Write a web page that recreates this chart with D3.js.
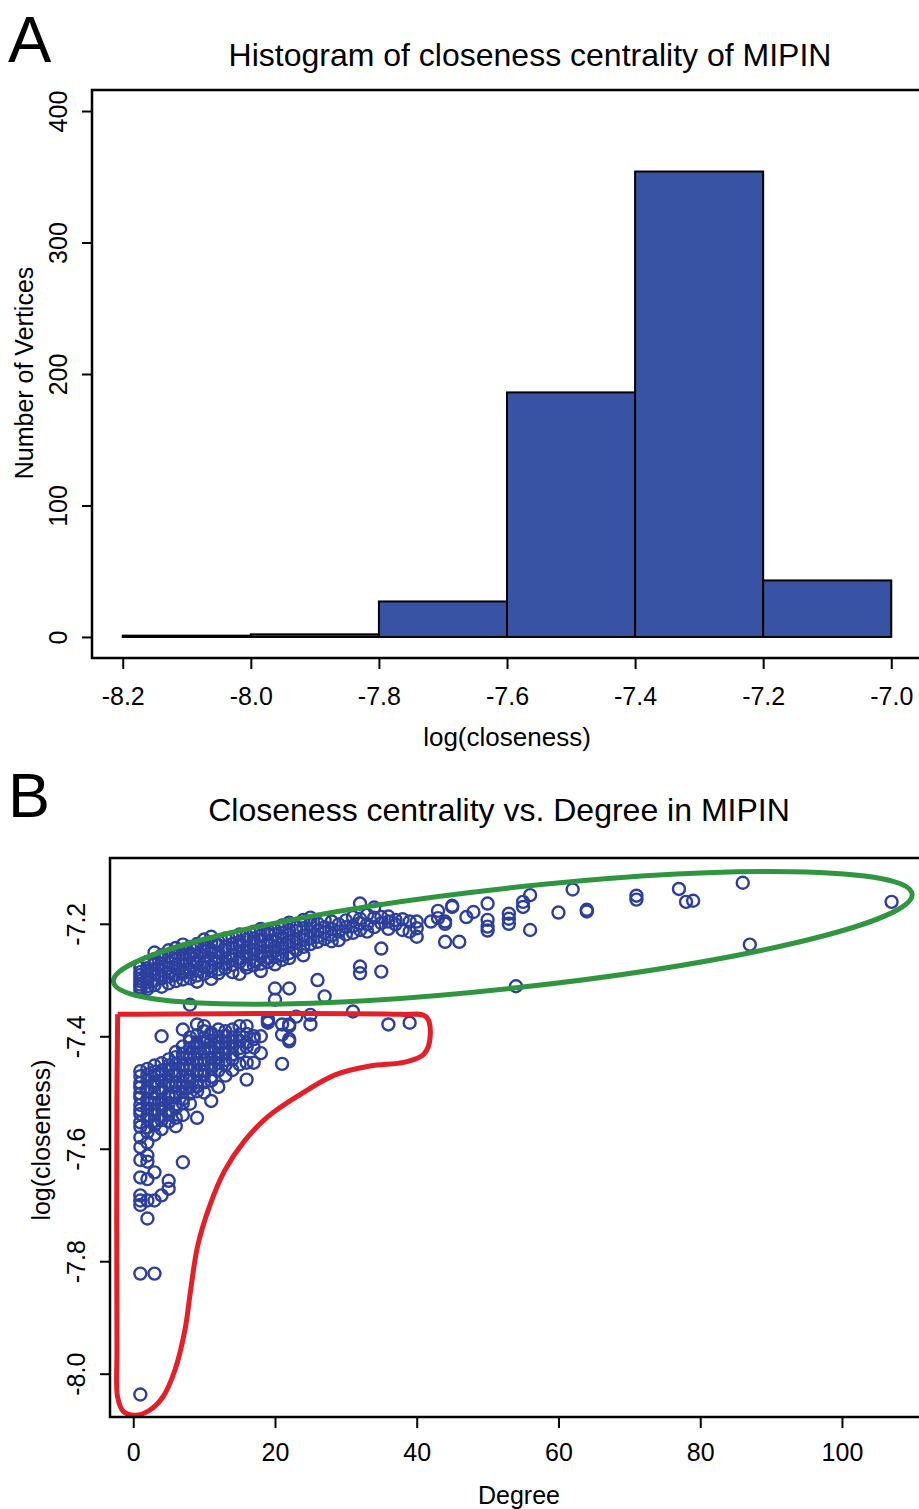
<!DOCTYPE html>
<meta charset="utf-8">
<head>
  <script src="https://cdn.jsdelivr.net/npm/d3@7"></script>
  <style>
    body { margin: 0; background: #fff; }
    svg text { font-family: "Liberation Sans", Arial, sans-serif; fill: #000; }
    .tick line { stroke: #000; stroke-width: 2; }
  </style>
</head>
<body>
<svg id="fig" width="919" height="1509"></svg>
<script>
  // ============================== DATA ==============================
  // panel A: histogram of log(closeness)
  var binEdges = [-8.2, -8.0, -7.8, -7.6, -7.4, -7.2, -7.0];
  var binCounts = [1, 2, 27, 186, 354, 43];
  var histXTicks = [-8.2, -8.0, -7.8, -7.6, -7.4, -7.2, -7.0];
  var histYTicks = [0, 100, 200, 300, 400];

  // panel B: [degree, [log(closeness) values]]
  var upperBranch = [
    [1, [-7.278, -7.286, -7.291, -7.297, -7.302, -7.308, -7.313, -7.318]],
    [2, [-7.268, -7.279, -7.284, -7.293, -7.298, -7.304, -7.311, -7.316]],
    [3, [-7.251, -7.263, -7.272, -7.281, -7.289, -7.301, -7.309]],
    [4, [-7.256, -7.262, -7.271, -7.283, -7.292, -7.297, -7.312]],
    [5, [-7.247, -7.259, -7.268, -7.279, -7.287, -7.294, -7.306]],
    [6, [-7.243, -7.252, -7.263, -7.274, -7.279, -7.291, -7.302]],
    [7, [-7.237, -7.246, -7.254, -7.262, -7.273, -7.284, -7.288, -7.299]],
    [8, [-7.241, -7.253, -7.258, -7.269, -7.281, -7.286, -7.297]],
    [9, [-7.236, -7.244, -7.257, -7.266, -7.271, -7.283, -7.292, -7.303]],
    [10, [-7.228, -7.242, -7.249, -7.258, -7.268, -7.277, -7.289]],
    [11, [-7.223, -7.233, -7.247, -7.252, -7.263, -7.276, -7.284, -7.298]],
    [12, [-7.231, -7.238, -7.251, -7.259, -7.267, -7.281, -7.288]],
    [13, [-7.226, -7.241, -7.247, -7.262, -7.271, -7.279]],
    [14, [-7.224, -7.236, -7.243, -7.256, -7.264, -7.273, -7.286]],
    [15, [-7.219, -7.232, -7.238, -7.249, -7.262, -7.268, -7.289]],
    [16, [-7.221, -7.228, -7.242, -7.251, -7.258, -7.272, -7.278]],
    [17, [-7.214, -7.226, -7.233, -7.246, -7.253, -7.266, -7.274]],
    [18, [-7.209, -7.221, -7.229, -7.241, -7.252, -7.258, -7.271, -7.284]],
    [19, [-7.212, -7.218, -7.232, -7.238, -7.249, -7.261, -7.268]],
    [20, [-7.211, -7.219, -7.231, -7.242, -7.248, -7.259, -7.272, -7.315, -7.335]],
    [21, [-7.203, -7.216, -7.224, -7.236, -7.243, -7.256, -7.264]],
    [22, [-7.198, -7.211, -7.219, -7.231, -7.239, -7.252, -7.261, -7.315]],
    [23, [-7.206, -7.213, -7.227, -7.234, -7.247]],
    [24, [-7.193, -7.208, -7.221, -7.229, -7.241, -7.256]],
    [25, [-7.189, -7.201, -7.214, -7.226, -7.236]],
    [26, [-7.199, -7.212, -7.223, -7.232, -7.30]],
    [27, [-7.194, -7.206, -7.216, -7.227, -7.329]],
    [28, [-7.196, -7.209, -7.221, -7.231]],
    [29, [-7.201, -7.214, -7.229]],
    [30, [-7.194, -7.206, -7.219]],
    [31, [-7.188, -7.204, -7.216]],
    [32, [-7.164, -7.191, -7.199, -7.211, -7.276, -7.288]],
    [33, [-7.184, -7.201, -7.214]],
    [34, [-7.171, -7.189, -7.206]],
    [35, [-7.188, -7.199, -7.244, -7.285]],
    [36, [-7.187, -7.196, -7.209]],
    [37, [-7.193, -7.201]],
    [38, [-7.192, -7.211]],
    [39, [-7.196, -7.214]],
    [40, [-7.196, -7.208, -7.223]],
    [42, [-7.196]],
    [43, [-7.177, -7.19]],
    [44, [-7.196, -7.20, -7.232]],
    [45, [-7.168, -7.17]],
    [46, [-7.232]],
    [47, [-7.188]],
    [48, [-7.179]],
    [50, [-7.164, -7.193, -7.205, -7.212]],
    [53, [-7.182, -7.191, -7.20]],
    [54, [-7.311]],
    [55, [-7.161, -7.17]],
    [56, [-7.149, -7.211]],
    [60, [-7.18]],
    [62, [-7.139]],
    [64, [-7.175, -7.178]],
    [71, [-7.150, -7.157]],
    [77, [-7.138]],
    [78, [-7.161]],
    [79, [-7.159]],
    [86, [-7.127]],
    [87, [-7.237]],
    [107, [-7.161]]
  ];

  var lowerBranch = [
    [1, [-7.462, -7.471, -7.483, -7.491, -7.502, -7.509, -7.522, -7.531, -7.538, -7.553, -7.561, -7.58, -7.597, -7.62, -7.651, -7.683, -7.692, -7.70, -7.822, -8.037]],
    [2, [-7.458, -7.468, -7.478, -7.492, -7.498, -7.512, -7.518, -7.529, -7.541, -7.548, -7.562, -7.571, -7.589, -7.612, -7.623, -7.654, -7.692, -7.724]],
    [3, [-7.452, -7.463, -7.469, -7.482, -7.488, -7.501, -7.511, -7.519, -7.532, -7.539, -7.551, -7.558, -7.575, -7.642, -7.692, -7.822]],
    [4, [-7.40, -7.448, -7.461, -7.467, -7.479, -7.493, -7.498, -7.513, -7.521, -7.528, -7.542, -7.549, -7.565, -7.683]],
    [5, [-7.441, -7.452, -7.458, -7.471, -7.482, -7.487, -7.503, -7.508, -7.519, -7.533, -7.539, -7.552, -7.657, -7.671]],
    [6, [-7.428, -7.437, -7.449, -7.462, -7.468, -7.481, -7.489, -7.502, -7.507, -7.521, -7.528, -7.545, -7.56]],
    [7, [-7.388, -7.418, -7.431, -7.439, -7.452, -7.458, -7.471, -7.482, -7.488, -7.499, -7.512, -7.519, -7.54, -7.624]],
    [8, [-7.344, -7.402, -7.409, -7.421, -7.432, -7.438, -7.451, -7.459, -7.472, -7.478, -7.491, -7.502, -7.52]],
    [9, [-7.379, -7.398, -7.412, -7.418, -7.429, -7.441, -7.448, -7.462, -7.468, -7.481, -7.489, -7.498, -7.545]],
    [10, [-7.382, -7.391, -7.403, -7.411, -7.422, -7.428, -7.442, -7.449, -7.461, -7.469, -7.482, -7.50]],
    [11, [-7.394, -7.397, -7.408, -7.421, -7.427, -7.439, -7.452, -7.458, -7.472, -7.479, -7.515]],
    [12, [-7.388, -7.401, -7.412, -7.419, -7.431, -7.438, -7.448, -7.461, -7.49]],
    [13, [-7.391, -7.399, -7.411, -7.422, -7.429, -7.442, -7.451, -7.47]],
    [14, [-7.388, -7.402, -7.409, -7.418, -7.432, -7.441, -7.46]],
    [15, [-7.382, -7.397, -7.408, -7.421, -7.428, -7.45]],
    [16, [-7.382, -7.396, -7.411, -7.419, -7.447, -7.477]],
    [17, [-7.40, -7.405, -7.42, -7.447]],
    [18, [-7.40, -7.43]],
    [19, [-7.37, -7.373, -7.376]],
    [21, [-7.379, -7.397, -7.449]],
    [22, [-7.379, -7.382, -7.405, -7.409]],
    [23, [-7.365]],
    [25, [-7.362, -7.379]],
    [31, [-7.356]],
    [36, [-7.379]],
    [39, [-7.376]]
  ];
  var scatterXTicks = [0, 20, 40, 60, 80, 100];
  var scatterYTicks = [-8.0, -7.8, -7.6, -7.4, -7.2];

  // annotations, in data units (degree, log(closeness))
  var greenEllipseEnds = [[-2.8, -7.303], [109.9, -7.147]];
  var greenEllipseHalfWidth = 50;
  var redOutline = [
    [-2.2, -7.361], [37.6, -7.361], [41.3, -7.365], [41.9, -7.400], [41.0, -7.432],
    [38.3, -7.446], [33.4, -7.453], [28.4, -7.469], [23.5, -7.504], [19.0, -7.543],
    [15.7, -7.586], [12.9, -7.639], [10.8, -7.701], [9.1, -7.772], [8.1, -7.851],
    [7.3, -7.922], [5.9, -7.993], [4.2, -8.041], [2.3, -8.065], [0.3, -8.074],
    [-1.4, -8.067], [-2.2, -8.042], [-2.3, -7.958], [-2.3, -7.515], [-2.2, -7.361]
  ];

  // ============================== SETUP ==============================
  var svg = d3.select("#fig");
  svg.append("rect").attr("width", 919).attr("height", 1509).attr("fill", "#fff");

  var blue = "#3953a4", pointBlue = "#2d3f9d";

  // ============================== PANEL A ==============================
  var boxA = {left: 92, right: 922, top: 90, bottom: 658};
  var xA = d3.scaleLinear().domain([-8.248, -6.952]).range([boxA.left, boxA.right]);
  var yA = d3.scaleLinear().domain([-16, 416]).range([boxA.bottom, boxA.top]);

  var bins = binCounts.map(function(c, i) { return {x0: binEdges[i], x1: binEdges[i + 1], n: c}; });

  var gA = svg.append("g");
  gA.selectAll(".bar")
    .data(bins)
    .enter()
    .append("rect")
    .attr("class", "bar")
    .attr("x", function(d) { return xA(d.x0); })
    .attr("y", function(d) { return yA(d.n); })
    .attr("width", function(d) { return xA(d.x1) - xA(d.x0); })
    .attr("height", function(d) { return yA(0) - yA(d.n); })
    .attr("fill", blue)
    .attr("stroke", "#000")
    .attr("stroke-width", 2);

  gA.append("rect")
    .attr("x", boxA.left).attr("y", boxA.top)
    .attr("width", boxA.right - boxA.left).attr("height", boxA.bottom - boxA.top)
    .attr("fill", "none").attr("stroke", "#000").attr("stroke-width", 2.5);

  // bottom axis
  var axA = gA.append("g")
    .attr("transform", "translate(0," + boxA.bottom + ")")
    .call(d3.axisBottom(xA).tickValues(histXTicks).tickSize(11));
  axA.select(".domain").remove();
  axA.selectAll("text").attr("y", 0).attr("dy", 47).attr("font-size", 25)
    .text(function(d) { return d3.format(".1f")(d).replace("−", "-"); });

  // left axis
  var ayA = gA.append("g")
    .attr("transform", "translate(" + boxA.left + ",0)")
    .call(d3.axisLeft(yA).tickValues(histYTicks).tickSize(10));
  ayA.select(".domain").remove();
  ayA.selectAll("text")
    .attr("x", 0).attr("dy", null).attr("y", -25)
    .attr("transform", "rotate(-90)")
    .attr("text-anchor", "middle")
    .attr("font-size", 25);

  gA.append("text").attr("x", 507).attr("y", 746)
    .attr("text-anchor", "middle").attr("font-size", 26).text("log(closeness)");
  gA.append("text").attr("transform", "translate(33,373) rotate(-90)")
    .attr("text-anchor", "middle").attr("font-size", 25).text("Number of Vertices");
  gA.append("text").attr("x", 530).attr("y", 66)
    .attr("text-anchor", "middle").attr("font-size", 32).text("Histogram of closeness centrality of MIPIN");
  gA.append("text").attr("x", 8).attr("y", 62).attr("font-size", 65).text("A");

  // ============================== PANEL B ==============================
  var boxB = {left: 110, right: 929, top: 858, bottom: 1417};
  var xB = d3.scaleLinear().domain([-3.28, 112.28]).range([boxB.left, boxB.right]);
  var yB = d3.scaleLinear().domain([-8.077, -7.083]).range([boxB.bottom, boxB.top]);

  var pts = [];
  upperBranch.concat(lowerBranch).forEach(function(d) {
    d[1].forEach(function(v) { pts.push({deg: d[0], val: v}); });
  });

  var gB = svg.append("g");
  gB.selectAll(".pt")
    .data(pts)
    .enter()
    .append("circle")
    .attr("class", "pt")
    .attr("cx", function(d) { return xB(d.deg); })
    .attr("cy", function(d) { return yB(d.val); })
    .attr("r", 6)
    .attr("fill", "none")
    .attr("stroke", pointBlue)
    .attr("stroke-width", 2.4);

  // green ellipse around upper branch
  var e0 = [xB(greenEllipseEnds[0][0]), yB(greenEllipseEnds[0][1])];
  var e1 = [xB(greenEllipseEnds[1][0]), yB(greenEllipseEnds[1][1])];
  var ang = Math.atan2(e1[1] - e0[1], e1[0] - e0[0]) * 180 / Math.PI;
  gB.append("ellipse")
    .attr("cx", 0).attr("cy", 0)
    .attr("rx", Math.hypot(e1[0] - e0[0], e1[1] - e0[1]) / 2)
    .attr("ry", greenEllipseHalfWidth)
    .attr("transform", "translate(" + (e0[0] + e1[0]) / 2 + "," + (e0[1] + e1[1]) / 2 + ") rotate(" + ang + ")")
    .attr("fill", "none")
    .attr("stroke", "#2f963f")
    .attr("stroke-width", 5);

  // red outline around lower branch
  var redLine = d3.line()
    .x(function(d) { return xB(d[0]); })
    .y(function(d) { return yB(d[1]); })
    .curve(d3.curveCatmullRom.alpha(0.5));
  gB.append("path")
    .attr("d", redLine(redOutline))
    .attr("fill", "none")
    .attr("stroke", "#e41f28")
    .attr("stroke-width", 5)
    .attr("stroke-linejoin", "round");

  gB.append("rect")
    .attr("x", boxB.left).attr("y", boxB.top)
    .attr("width", boxB.right - boxB.left).attr("height", boxB.bottom - boxB.top)
    .attr("fill", "none").attr("stroke", "#000").attr("stroke-width", 2.5);

  var axB = gB.append("g")
    .attr("transform", "translate(0," + boxB.bottom + ")")
    .call(d3.axisBottom(xB).tickValues(scatterXTicks).tickSize(11));
  axB.select(".domain").remove();
  axB.selectAll("text").attr("y", 0).attr("dy", 44).attr("font-size", 25);

  var ayB = gB.append("g")
    .attr("transform", "translate(" + boxB.left + ",0)")
    .call(d3.axisLeft(yB).tickValues(scatterYTicks).tickSize(10));
  ayB.select(".domain").remove();
  ayB.selectAll("text")
    .attr("x", 0).attr("dy", null).attr("y", -25)
    .attr("transform", "rotate(-90)")
    .attr("text-anchor", "middle")
    .attr("font-size", 25)
    .text(function(d) { return d3.format(".1f")(d).replace("−", "-"); });

  gB.append("text").attr("x", 519).attr("y", 1504)
    .attr("text-anchor", "middle").attr("font-size", 25).text("Degree");
  gB.append("text").attr("transform", "translate(50,1140) rotate(-90)")
    .attr("text-anchor", "middle").attr("font-size", 25).text("log(closeness)");
  gB.append("text").attr("x", 499).attr("y", 821)
    .attr("text-anchor", "middle").attr("font-size", 32).text("Closeness centrality vs. Degree in MIPIN");
  gB.append("text").attr("x", 8).attr("y", 817).attr("font-size", 63).text("B");
</script>
</body>
